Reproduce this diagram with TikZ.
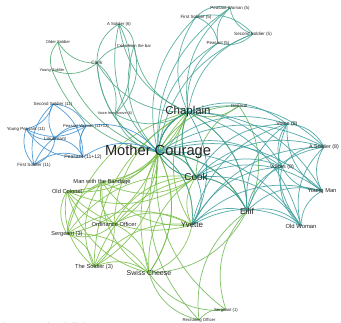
\documentclass[tikz,border=0pt]{standalone}
\usepackage{fontspec}
\setmainfont{Liberation Sans}
\usetikzlibrary{backgrounds}
\definecolor{labelc}{HTML}{222222}
\definecolor{cA}{HTML}{6DB752}
\definecolor{cB}{HTML}{62B154}
\definecolor{cC}{HTML}{78BE44}
\definecolor{cD}{HTML}{4FA870}
\definecolor{cE}{HTML}{46A598}
\definecolor{cF}{HTML}{4AA586}
\definecolor{cG}{HTML}{3C9D9C}
\definecolor{cH}{HTML}{3B8FD1}
\newcommand{\myclique}[2]{%
  \foreach \a [count=\i] in {#2} {%
    \foreach \b [count=\j] in {#2} {%
      \ifnum\j>\i\relax
        \draw[edge, draw=#1] (\a.center) to[bend left=30] (\b.center);
      \fi
    }%
  }%
}
\begin{document}
\begin{tikzpicture}[x=0.75pt,y=-0.75pt,
  lbl/.style={text=labelc, inner sep=0pt},
  sz/.style={font=\fontsize{#1}{#1}\selectfont},
  edge/.style={line width=0.55pt, opacity=0.85}]
\useasboundingbox (0,0) rectangle (341,323);
% main characters
\node[lbl, sz=11] (mc) at (158,152) {Mother Courage};
\node[lbl, sz=8.6] (chap) at (188,112) {Chaplain};
\node[lbl, sz=7.5] (cook) at (196,177) {Cook};
\node[lbl, sz=6.4] (eilif) at (247,211) {Eilif};
\node[lbl, sz=6.0] (yv) at (192,225) {Yvette};
\node[lbl, sz=5.3] (sc) at (149,273) {Swiss Cheese};
% scene 1-3
\node[lbl, sz=4.3] (oc) at (67,191) {Old Colonel};
\node[lbl, sz=4.3] (mwb) at (102,182) {Man with the Bandage};
\node[lbl, sz=4.3] (oo) at (114,224) {Ordinance Officer};
\node[lbl, sz=4.2] (sthree) at (67,234) {Sergeant (3)};
\node[lbl, sz=4.3] (tsthree) at (94,267) {The Soldier (3)};
\node[lbl, sz=3.2] (sone) at (226,310) {Sergeant (1)};
\node[lbl, sz=3.2] (ro) at (199,320) {Recruiting Officer};
\node[lbl, sz=3.4] (gen) at (239,106) {General};
% scene 8
\node[lbl, sz=4.4] (ow) at (301,226) {Old Woman};
\node[lbl, sz=4.3] (ym) at (322,191) {Young Man};
\node[lbl, sz=4.0] (vseight) at (282,167) {Voices (8)};
\node[lbl, sz=4.0] (aseight) at (324,147) {A Soldier (8)};
\node[lbl, sz=4.0] (veight) at (287,124) {Voice (8)};
% scene 4, 6
\node[lbl, sz=2.8] (vfa) at (115,114) {Voice from above (6)};
\node[lbl, sz=3.1] (olds) at (58,42) {Older Soldier};
\node[lbl, sz=3.0] (ys) at (52,70) {Young Soldier};
\node[lbl, sz=3.6] (clerk) at (97,63) {Clerk};
\node[lbl, sz=3.2] (assix) at (119,24) {A Soldier (6)};
\node[lbl, sz=3.2] (cfb) at (134,46) {Cries from the bar};
% scene 5
\node[lbl, sz=3.3] (pwfive) at (230,8) {Peasant Woman (5)};
\node[lbl, sz=3.4] (fsfive) at (196,17) {First Soldier (5)};
\node[lbl, sz=3.4] (ssfive) at (253,34) {Second Soldier (5)};
\node[lbl, sz=3.3] (pfive) at (218,43) {Peasant (5)};
% scene 11, 12
\node[lbl, sz=3.3] (sseleven) at (53,104) {Second Soldier (11)};
\node[lbl, sz=3.3] (ypeleven) at (26,129) {Young Peasant (11)};
\node[lbl, sz=3.1] (pweleven) at (86,126) {Peasant Woman (11+12)};
\node[lbl, sz=3.5] (lt) at (55,139) {Lieutenant};
\node[lbl, sz=3.8] (peleven) at (83,157) {Peasant (11+12)};
\node[lbl, sz=3.4] (fseleven) at (34,165) {First Soldier (11)};
% cut-off title
\node[lbl, sz=10.5, anchor=base west] (title) at (-21,333) {Mother and Children};
\begin{scope}[on background layer]
\myclique{cA}{ro,sone,mc,eilif,sc}
\myclique{cB}{cook,mc,gen,chap,eilif}
\myclique{cC}{mc,oo,sthree,tsthree,yv,sc,cook,chap,mwb,oc}
\myclique{cD}{mc,clerk,ys,olds}
\myclique{cE}{mc,chap,fsfive,ssfive,pfive,pwfive}
\myclique{cF}{mc,chap,clerk,assix,cfb,vfa}
\myclique{cG}{mc,cook,chap,yv,eilif,ow,ym,vseight,veight,aseight}
\myclique{cG}{cook,mc}
\myclique{cH}{lt,fseleven,sseleven,peleven,pweleven,ypeleven}
\myclique{cH}{peleven,pweleven,mc}
\end{scope}
\end{tikzpicture}
\end{document}
